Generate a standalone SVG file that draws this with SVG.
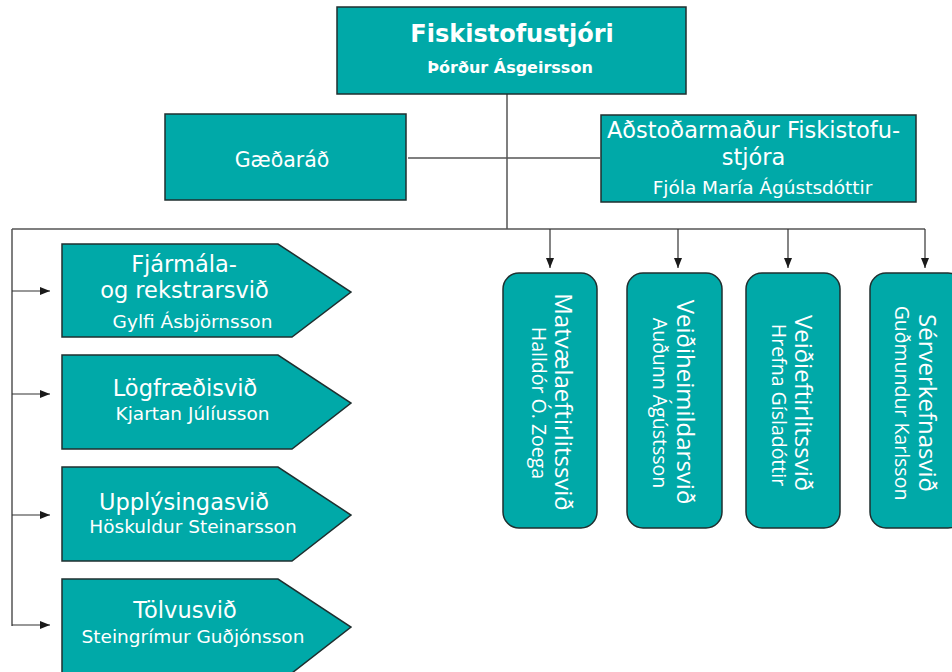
<svg xmlns="http://www.w3.org/2000/svg" width="952" height="672" viewBox="0 0 952 672">
<defs>
<marker id="ah" viewBox="0 0 10 8" refX="10" refY="4" markerWidth="10" markerHeight="8" markerUnits="userSpaceOnUse" orient="auto">
<path d="M0,0 L10,4 L0,8 Z" fill="#1a1a1a"/>
</marker>
<style>
.box{fill:#00A9A8;stroke:#1f2f2f;stroke-width:1.5}
.ln{fill:none;stroke:#555;stroke-width:1.5}
.arr{fill:none;stroke:#333;stroke-width:1.2;marker-end:url(#ah)}
.t{fill:#fff;font-family:"DejaVu Sans",Verdana,sans-serif;text-anchor:middle}
.r{fill:#fff;font-family:"Open Sans","Noto Sans",sans-serif;text-anchor:middle}
</style>
</defs>
<rect width="952" height="672" fill="#fff"/>
<g id="connectors">
<path class="ln" d="M507,94 V229"/>
<path class="ln" d="M408,158 H600"/>
<path class="ln" d="M12,229 H925"/>
<path class="ln" d="M12,229 V626"/>
<path class="arr" d="M12,291 H50"/>
<path class="arr" d="M12,394 H50"/>
<path class="arr" d="M12,515 H50"/>
<path class="arr" d="M12,625 H50"/>
<path class="arr" d="M550,229 V268"/>
<path class="arr" d="M678,229 V268"/>
<path class="arr" d="M788,229 V268"/>
<path class="arr" d="M925,229 V268"/>
</g>
<g id="n-director">
<rect class="box" x="337" y="7" width="349" height="87"/>
<text class="t" x="512" y="42" font-size="24" font-weight="bold">Fiskistofustjóri</text>
<text class="t" x="510" y="73" font-size="16" font-weight="bold">Þórður Ásgeirsson</text>
</g>
<g id="n-gaedarad">
<rect class="box" x="165" y="114" width="241" height="86"/>
<text class="t" x="282" y="167" font-size="20.5">Gæðaráð</text>
</g>
<g id="n-adstodarmadur">
<rect class="box" x="601" y="115" width="315" height="87"/>
<text class="t" x="753.5" y="138" font-size="22.5">Aðstoðarmaður Fiskistofu-</text>
<text class="t" x="753.5" y="165" font-size="22.5">stjóra</text>
<text class="t" x="762.5" y="194" font-size="18.5">Fjóla María Ágústsdóttir</text>
</g>
<g id="n-fjarmala">
<polygon class="box" points="62,244 278,244 351,292 292,337 62,337"/>
<text class="t" x="184" y="272" font-size="22.5">Fjármála-</text>
<text class="t" x="184.5" y="298" font-size="22.5">og rekstrarsvið</text>
<text class="t" x="192.5" y="328" font-size="18.5">Gylfi Ásbjörnsson</text>
</g>
<g id="n-logfraedi">
<polygon class="box" points="62,355 278,355 351,403 292,449 62,449"/>
<text class="t" x="185" y="396" font-size="22.5">Lögfræðisvið</text>
<text class="t" x="192.5" y="420" font-size="18.5">Kjartan Júlíusson</text>
</g>
<g id="n-upplysinga">
<polygon class="box" points="62,467 278,467 351,515 292,561 62,561"/>
<text class="t" x="184" y="510" font-size="22.5">Upplýsingasvið</text>
<text class="t" x="193" y="533" font-size="18.5">Höskuldur Steinarsson</text>
</g>
<g id="n-tolvu">
<polygon class="box" points="62,579 278,579 351,627 292,673 62,673"/>
<text class="t" x="185" y="618" font-size="22.5">Tölvusvið</text>
<text class="t" x="193" y="643" font-size="18.5">Steingrímur Guðjónsson</text>
</g>
<g id="n-matvaela">
<rect class="box" x="503" y="273" width="94" height="255" rx="16"/>
<text class="r" transform="translate(555,402) rotate(90)" font-size="24">Matvælaeftirlitssvið</text>
<text class="r" transform="translate(532,403) rotate(90)" font-size="19.5">Halldór Ó. Zoega</text>
</g>
<g id="n-veidiheimild">
<rect class="box" x="627" y="273" width="95" height="255" rx="16"/>
<text class="r" transform="translate(677,402) rotate(90)" font-size="24">Veiðiheimildarsvið</text>
<text class="r" transform="translate(653,403) rotate(90)" font-size="19.5">Auðunn Ágústsson</text>
</g>
<g id="n-veidieftirlit">
<rect class="box" x="746" y="273" width="94" height="255" rx="16"/>
<text class="r" transform="translate(795,403) rotate(90)" font-size="24">Veiðieftirlitssvið</text>
<text class="r" transform="translate(772,405) rotate(90)" font-size="19.5">Hrefna Gísladóttir</text>
</g>
<g id="n-serverkefna">
<rect class="box" x="870" y="273" width="94" height="255" rx="16"/>
<text class="r" transform="translate(919,403) rotate(90)" font-size="24">Sérverkefnasvið</text>
<text class="r" transform="translate(895,403) rotate(90)" font-size="19.5">Guðmundur Karlsson</text>
</g>
</svg>
